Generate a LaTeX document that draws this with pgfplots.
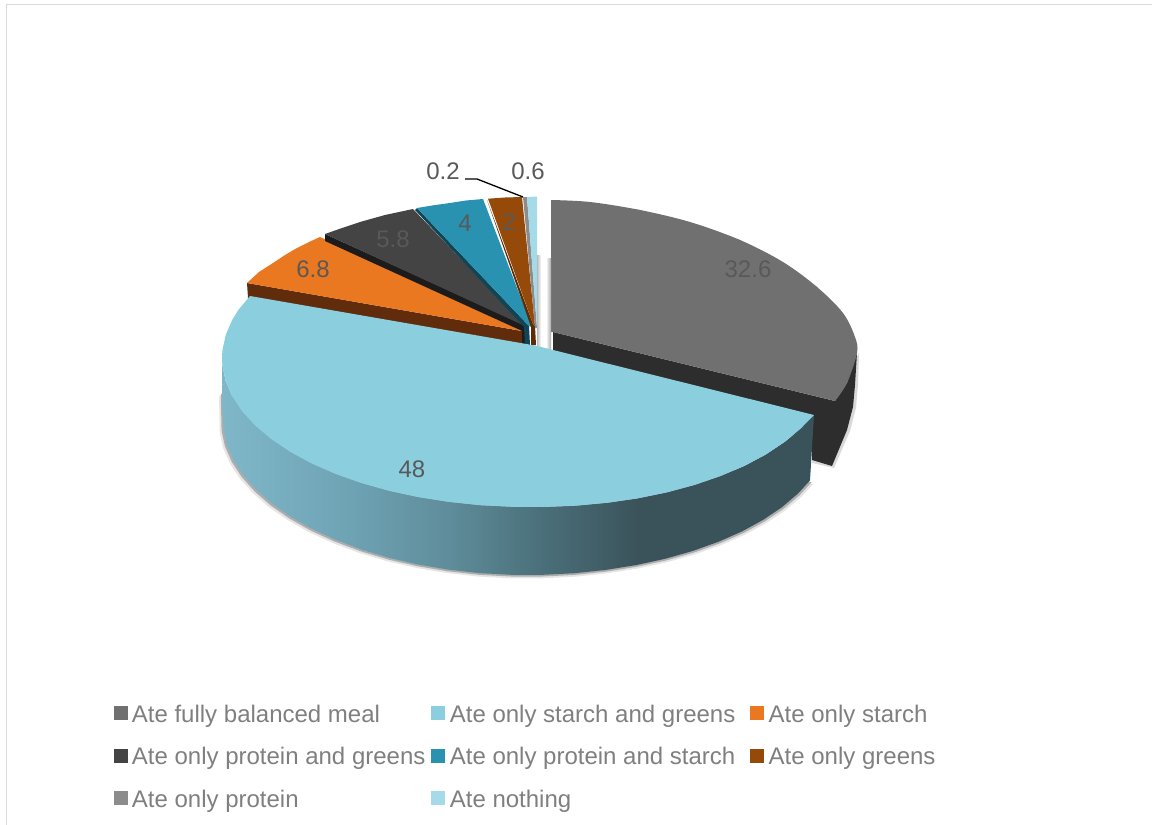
\documentclass[border=0pt]{standalone}
\usepackage{fontspec}
\setmainfont{Liberation Sans}
\usepackage{pgfplots}
\usepackage{pgfplotstable}
\pgfplotsset{compat=1.18}
\definecolor{cBal}{HTML}{707070}
\definecolor{cBalSide}{HTML}{2D2D2D}
\definecolor{cGS}{HTML}{8BCFDF}
\definecolor{cStarch}{HTML}{E97820}
\definecolor{cStarchSide}{HTML}{612C0B}
\definecolor{cPG}{HTML}{444444}
\definecolor{cPGSide}{HTML}{1C1C1C}
\definecolor{cPS}{HTML}{2892B0}
\definecolor{cPSSide}{HTML}{0F4555}
\definecolor{cGreens}{HTML}{964A0A}
\definecolor{cGreensSide}{HTML}{5E2C07}
\definecolor{cProt}{HTML}{8C8C8C}
\definecolor{cNone}{HTML}{A5DBE9}
\definecolor{cLabel}{HTML}{595959}
\definecolor{cLegend}{HTML}{7F7F7F}
\definecolor{cFrame}{HTML}{D9D9D9}
\definecolor{wallA}{HTML}{7FB7C9}
\definecolor{wallB}{HTML}{6EA3B4}
\definecolor{wallC}{HTML}{5F8C9A}
\definecolor{wallD}{HTML}{4E7681}
\definecolor{wallE}{HTML}{3A525A}
\definecolor{gapA}{HTML}{B8B8B8}
\definecolor{gapB}{HTML}{A8A8A8}
% Wall of the largest slice: light on the left, dark towards the right
\pgfdeclarehorizontalshading{wallshade}{100bp}{
  color(0bp)=(wallA);
  color(25bp)=(wallA);
  color(35.8bp)=(wallB);
  color(44.3bp)=(wallC);
  color(50.2bp)=(wallD);
  color(60.3bp)=(wallE);
  color(75bp)=(wallE);
  color(100bp)=(wallE)}
\pgfdeclarehorizontalshading{gapleft}{100bp}{
  color(0bp)=(gapA); color(25bp)=(gapA);
  color(75bp)=(white); color(100bp)=(white)}
\pgfdeclarehorizontalshading{gapright}{100bp}{
  color(0bp)=(white); color(25bp)=(white);
  color(75bp)=(gapB); color(100bp)=(gapB)}
% Lower rim of the largest slice
\pgfplotstableread{
x y
810 480.4
797.9 493.6
782 507.1
763.2 519.8
742 531.4
718.3 541.8
692.6 551
665 558.8
636 565.1
605.7 569.9
574.5 573.2
542.9 574.8
511.1 574.8
479.5 573.1
448.3 569.6
418 564.5
389 557.8
361.4 549.5
335.7 539.8
312 528.9
290.8 516.8
272 503.6
256.1 489.6
243.2 475
233.4 459.9
226.7 444.4
223.4 428.8
222.6 392
}\lowerrim
\pgfplotsset{
  slice/.style={forget plot,draw=none,fill=#1,no markers},
  swatch/.style={legend image code/.code={\fill[#1] (0pt,-3.5pt) rectangle (13pt,9.5pt);}},
}
\newcommand{\vlabel}[3]{\node[text=cLabel,font=\fontsize{24}{24}\selectfont,inner sep=0pt] at (axis cs:#1,#2) {#3};}
\begin{document}
\begin{tikzpicture}
\path[use as bounding box] (0,0) rectangle (1152pt,825pt);
\begin{axis}[
  scale only axis,width=1152pt,height=825pt,
  xmin=0,xmax=1152,ymin=0,ymax=825,y dir=reverse,
  hide axis,clip=false,
  legend columns=3,
  legend cell align=left,
  legend style={
    at={(axis cs:113.5,704)},anchor=north west,
    draw=none,fill=none,inner sep=0pt,outer sep=0pt,
    font=\fontsize{24}{24}\selectfont,text=cLegend,
    nodes={text height=18pt,text depth=6pt,inner ysep=0pt,inner xsep=0pt,outer sep=0pt},
    row sep=18.5pt,
    /tikz/column 1/.style={column sep=5pt},
    /tikz/column 2/.style={column sep=6pt},
    /tikz/column 3/.style={column sep=5pt},
    /tikz/column 4/.style={column sep=15pt},
    /tikz/column 5/.style={column sep=5pt},
  },
]
% legend entries
\addlegendimage{swatch=cBal}\addlegendentry{Ate fully balanced meal}
\addlegendimage{swatch=cGS}\addlegendentry{Ate only starch and greens}
\addlegendimage{swatch=cStarch}\addlegendentry{Ate only starch}
\addlegendimage{swatch=cPG}\addlegendentry{Ate only protein and greens}
\addlegendimage{swatch=cPS}\addlegendentry{Ate only protein and starch}
\addlegendimage{swatch=cGreens}\addlegendentry{Ate only greens}
\addlegendimage{swatch=cProt}\addlegendentry{Ate only protein}
\addlegendimage{swatch=cNone}\addlegendentry{Ate nothing}

% chart frame (top and left edges)
\addplot[forget plot,draw=cFrame,line width=1.6pt,no markers] coordinates {(6.5,825) (6.5,4.5) (1152,4.5)};

% soft drop shadows beneath the walls
\addplot[slice=black!10,x filter/.expression={527+(x-527)*1.012},y filter/.expression={y+3.5}] table[x=x,y=y] {\lowerrim};
\addplot[slice=black!32,x filter/.expression={527+(x-527)*1.006},y filter/.expression={y+1.7}] table[x=x,y=y] {\lowerrim};
\addplot[slice=black!15] coordinates {(859,353) (858,385) (856,408) (850,431) (834,468) (812,463) (812,440)};

% second slice, pulled out to the right: wall, then top face
\addplot[slice=cBalSide] coordinates {(553,332) (835,401) (847,383) (857,353) (855,385) (853,407) (847,430) (832,466) (812,460) (812,440) (553,360)};
\addplot[slice=cBal] coordinates {(551,200) (640,210) (740,240) (817,287) (857,353) (835,401) (553,332) (551,332)};
\addplot[slice=cBal,smooth,tension=0.55] coordinates {(551,200) (590,202) (640,210) (690,222) (740,240) (783,262) (817,287) (843,313) (855,337) (857,353) (847,383) (835,401)};

% shadows falling into the gap between the two parts
\addplot[forget plot,draw=none,shading=gapleft,no markers] coordinates {(537,255) (541,255) (541,347) (537,347)};
\addplot[forget plot,draw=none,shading=gapright,no markers] coordinates {(546,258) (551,258) (551,350) (546,350)};

% remaining slices, from the far left round to the back
\addplot[slice=cStarchSide] coordinates {(247,283) (522,331) (522,344) (248,298)};
\addplot[slice=cStarch] coordinates {(247,283) (259,272) (273,263) (285,255) (297,248) (309,242) (320,237) (522,331)};
\addplot[slice=cPGSide] coordinates {(325,234) (525,325) (526,344) (522,344) (522,331) (325,241)};
\addplot[slice=cPG] coordinates {(325,234) (342,228) (360,222) (385,215) (413,209) (527,328) (525,326)};
\addplot[slice=cPSSide] coordinates {(417,208) (529,326) (530,345) (525,345) (524,327) (415,210)};
\addplot[slice=cPS] coordinates {(417,208) (432,205.5) (450,203) (466,200.5) (483,199) (532,327) (529,326)};
\addplot[slice=cGreensSide] coordinates {(487,200) (533,324) (535,326) (536,345) (531,345) (531,327)};
\addplot[slice=cGreens] coordinates {(488,198.7) (505,197.5) (522,197) (535,326) (533,324)};
\addplot[slice=cProt] coordinates {(523,197) (527,197) (537,328) (535,328)};
\addplot[slice=cNone] coordinates {(527,197) (537,196.5) (537,328)};

% largest slice: wall first, then its top face
\addplot[forget plot,draw=none,shading=wallshade,no markers] coordinates {(814,415) (800.6,428.7) (784.6,442) (765.8,454.5) (744.4,465.9) (720.6,476) (694.7,484.9) (666.9,492.4) (637.7,498.4) (607.2,502.8) (575.9,505.7) (544,507) (512,506.8) (480.1,505.2) (448.8,501.9) (418.3,497.1) (389.1,490.8) (361.3,483) (335.4,473.8) (311.6,463.4) (290.2,451.8) (271.4,439.1) (255.4,425.6) (242.3,411.4) (232.4,396.6) (225.8,381.3) (222.4,365.8) (222,358) (222.4,400) (223.4,428.8) (226.7,444.4) (233.4,459.9) (243.2,475) (256.1,489.6) (272,503.6) (290.8,516.8) (312,528.9) (335.7,539.8) (361.4,549.5) (389,557.8) (418,564.5) (448.3,569.6) (479.5,573.1) (511.1,574.8) (542.9,574.8) (574.5,573.2) (605.7,569.9) (636,565.1) (665,558.8) (692.6,551) (718.3,541.8) (742,531.4) (763.2,519.8) (782,507.1) (797.9,493.6) (810,480.4)};
\addplot[slice=cGS] coordinates {(814,415) (800.6,428.7) (784.6,442) (765.8,454.5) (744.4,465.9) (720.6,476) (694.7,484.9) (666.9,492.4) (637.7,498.4) (607.2,502.8) (575.9,505.7) (544,507) (512,506.8) (480.1,505.2) (448.8,501.9) (418.3,497.1) (389.1,490.8) (361.3,483) (335.4,473.8) (311.6,463.4) (290.2,451.8) (271.4,439.1) (255.4,425.6) (242.3,411.4) (232.4,396.6) (225.8,381.3) (222.4,365.8) (222,358) (222.4,350.2) (225.8,334.7) (232.4,319.4) (238.7,309.5) (250,296) (535,345.5)};

% leader line of the 0.2 label
\addplot[forget plot,draw=black,line width=1.3pt,no markers] coordinates {(465,179) (477,179) (523,197)};

% value labels
\vlabel{748}{269}{32.6}
\vlabel{412}{469}{48}
\vlabel{313}{269}{6.8}
\vlabel{393}{239}{5.8}
\vlabel{465}{223}{4}
\vlabel{509}{222}{2}
\vlabel{443}{171}{0.2}
\vlabel{528}{171}{0.6}
\end{axis}
\end{tikzpicture}
\end{document}
